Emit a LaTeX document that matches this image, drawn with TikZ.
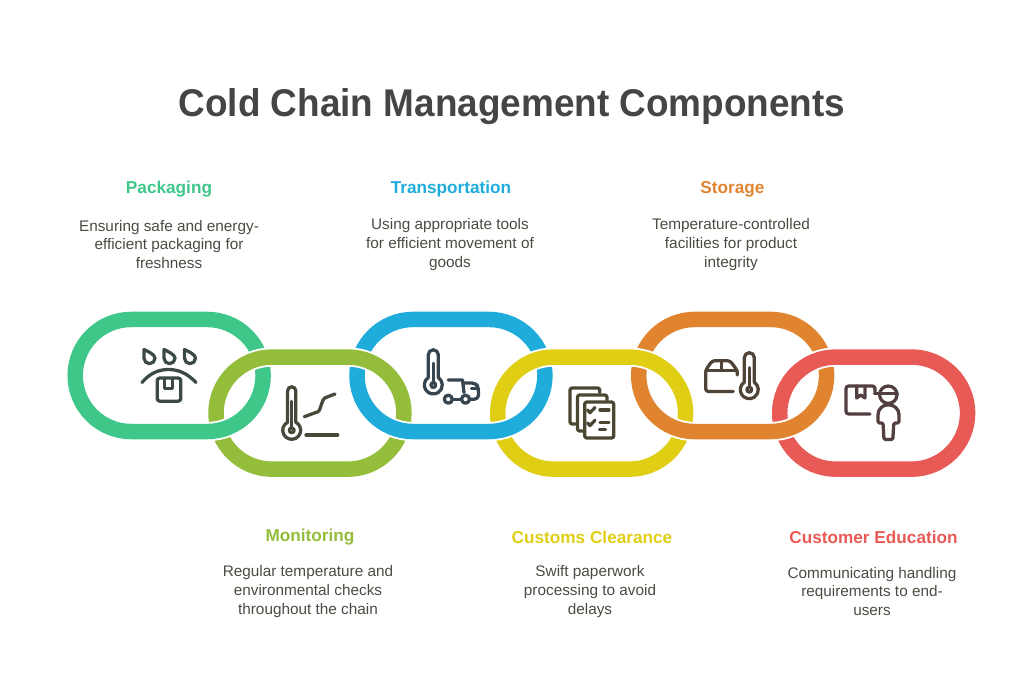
\documentclass[tikz,border=0pt]{standalone}
\usepackage{fontspec}
\setmainfont{Liberation Sans}
\newfontfamily\titlefont[FakeStretch=0.955]{Liberation Sans}
\usepackage{tikz}

\definecolor{pack}{HTML}{3FC78A}
\definecolor{moni}{HTML}{93BD3A}
\definecolor{tran}{HTML}{1FACDB}
\definecolor{cust}{HTML}{E0CE15}
\definecolor{stor}{HTML}{E08430}
\definecolor{educ}{HTML}{E85A55}
\definecolor{ink}{HTML}{4B4B42}
\definecolor{inkpack}{HTML}{3C4A44}
\definecolor{inkmoni}{HTML}{46493A}
\definecolor{inktran}{HTML}{36454F}
\definecolor{inkcust}{HTML}{4A4632}
\definecolor{inkstor}{HTML}{504438}
\definecolor{inkeduc}{HTML}{533F3F}

\tikzset{iconline/.style={line width=2.45pt,line cap=round,line join=round}}

% one link of the chain: left edge, top edge, colour
\newcommand{\chainlink}[3]{
    \draw[white,line width=14.4pt] (#1+63.75,#2+7.75) -- ++(75.8,0) arc[start angle=90,end angle=-90,radius=42.04pt] -- ++(-75.8,0) arc[start angle=270,end angle=90,radius=42.04pt] -- cycle;
    \draw[#3,line width=11.6pt] (#1+63.75,#2+7.75) -- ++(75.8,0) arc[start angle=90,end angle=-90,radius=42.04pt] -- ++(-75.8,0) arc[start angle=270,end angle=90,radius=42.04pt] -- cycle;
}
% thermometer: bulb x, bulb y, tube top, half width of tube, top of stem, colour
\newcommand{\thermo}[6]{
    \pgfmathsetmacro{\tang}{asin(#4/9)}
    \pgfmathsetmacro{\tup}{9*cos(\tang)}
    \begin{scope}[shift={(#1,#2)},draw=#6,iconline]
        \draw (-#4,-\tup) arc[start angle=90+\tang,end angle=450-\tang,radius=6.75pt]
            {[rounded corners=#4*0.74pt] -- (#4,#3) -- (-#4,#3)} -- cycle;
        \draw (0,0) circle[radius=2.4];
        \draw (0,#5) -- (0,-2.4);
    \end{scope}
}
% water drop: x and y of its tip
\newcommand{\waterdrop}[2]{
    \draw[shift={(#1,#2)}] (0,0) .. controls (4,2) and (11,5) .. (11,8.7) .. controls (11,11.7) and (8.5,14.2) .. (5.5,14.2) .. controls (2.5,14.2) and (0,11.7) .. (0,8.7) .. controls (0,5.7) and (0,3) .. cycle;
}

\begin{document}
\begin{tikzpicture}[x=0.75pt,y=-0.75pt]
\tikzstyle{title}=[font=\titlefont\bfseries\fontsize{29}{36}\selectfont,text=black!73]
\tikzstyle{head}=[font=\bfseries\fontsize{12.9}{15}\selectfont]
\tikzstyle{desc}=[font=\fontsize{11.5}{14}\selectfont,text=ink,align=center]
\useasboundingbox (0,0) rectangle (1024,695);
% draw texts
    \node[title] (title) at (512,107) {Cold Chain Management Components};
    \node[head,text=pack] (hpack) at (169,189) {Packaging};
    \node[head,text=tran] (htran) at (451,189) {Transportation};
    \node[head,text=stor] (hstor) at (732.5,189) {Storage};
    \node[head,text=moni] (hmoni) at (310,537) {Monitoring};
    \node[head,text=cust] (hcust) at (592,537) {Customs Clearance};
    \node[head,text=educ] (heduc) at (873.5,537) {Customer Education};
    \node[desc] (dpack) at (169,244.5) {Ensuring safe and energy-\\efficient packaging for\\freshness};
    \node[desc] (dtran) at (450,244.5) {Using appropriate tools\\for efficient movement of\\goods};
    \node[desc] (dstor) at (731,244.5) {Temperature-controlled\\facilities for product\\integrity};
    \node[desc] (dmoni) at (308,591.5) {Regular temperature and\\environmental checks\\throughout the chain};
    \node[desc] (dcust) at (590,591.5) {Swift paperwork\\processing to avoid\\delays};
    \node[desc] (deduc) at (872,591.5) {Communicating handling\\requirements to end-\\users};
% draw chain
%   upper links, then lower links over them
    \chainlink{67.5}{311.7}{pack}
    \chainlink{349.3}{311.7}{tran}
    \chainlink{631}{311.7}{stor}
    \chainlink{208.3}{349.3}{moni}
    \chainlink{490}{349.3}{cust}
    \chainlink{772}{349.3}{educ}
%   lower half of upper links again, so that they interlock
    \begin{scope}
        \clip (0,385) rectangle (1024,450);
        \chainlink{67.5}{311.7}{pack}
        \chainlink{349.3}{311.7}{tran}
        \chainlink{631}{311.7}{stor}
    \end{scope}
% draw packaging icon
    \begin{scope}[iconline,draw=inkpack]
        \waterdrop{144}{349.5}
        \waterdrop{164}{349.5}
        \waterdrop{184.5}{349.5}
        \draw (142,382.5) .. controls (150,373) and (159,369.5) .. (168.5,369.5) .. controls (178,369.5) and (187,373) .. (196,382.5);
        \draw[rounded corners=2pt] (157.2,378) rectangle (180.8,401.2);
        \draw (164.8,378) -- (164.8,388.5) -- (172.8,388.5) -- (172.8,378);
    \end{scope}
% draw monitoring icon
    \thermo{291.7}{430.3}{-43.5}{4.1}{-29}{inkmoni}
    \begin{scope}[iconline,draw=inkmoni]
        \draw (304.3,416.7) -- (318,411.7) -- (319.5,410) -- (323,400) -- (325,397.8) -- (335,394);
        \draw (306,435) -- (337.7,435);
    \end{scope}
% draw transportation icon
    \thermo{433.3}{385}{-35.2}{5}{-21.7}{inktran}
    \begin{scope}[iconline,draw=inktran]
        \draw (448.3,399.2) circle[radius=4];
        \draw (465.5,399.2) circle[radius=4];
        \draw (452.3,399.2) -- (461.5,399.2);
        \draw (448.3,380) -- (462.5,380) -- (464,392.5);
        \draw[rounded corners=3pt] (463,383) -- (476,383) -- (478.5,388) -- (478.5,399.2) -- (469.5,399.2);
        \draw (471.5,388.5) -- (478.5,388.5);
    \end{scope}
% draw customs icon
    \begin{scope}[iconline,draw=inkcust,rounded corners=1.6pt]
        \draw (599.8,392.5) -- (599.8,388) -- (570,388) -- (570,424) -- (575.5,424);
        \draw (607,400) -- (607,395) -- (577.5,395) -- (577.5,431) -- (583,431);
        \draw (584.7,402) rectangle (613.7,438);
    \end{scope}
    \begin{scope}[iconline,draw=inkcust]
        \draw (587.5,410) -- (590,412.7) -- (595,407.5);
        \draw (600,410) -- (609,410);
        \draw (587.5,423) -- (590,425.5) -- (595,420.3);
        \draw (600,422.3) -- (609,422.3);
        \draw (599.5,429.5) -- (605.5,429.5);
    \end{scope}
% draw storage icon
    \begin{scope}[iconline,draw=inkstor]
        \draw[rounded corners=2pt] (733.3,391.5) -- (705.7,391.5) -- (705.7,370) -- (712.3,360.7) -- (730,360.7) -- (737.3,370.5) -- (737.3,375);
        \draw (705.7,370.5) -- (737.3,370.5);
        \draw (721.7,360.7) -- (721.7,370.5);
    \end{scope}
    \thermo{749.3}{389.7}{-37}{5}{-22}{inkstor}
% draw education icon
    \begin{scope}[iconline,draw=inkeduc]
        \draw[rounded corners=2pt] (870,414) -- (846,414) -- (846,386) -- (875,386) -- (875,392);
        \draw (856.7,386) -- (856.7,398) -- (860.8,395) -- (865,398) -- (865,386);
        \draw (888.3,394.7) circle[radius=8.7];
        \draw (874.5,393.3) -- (897.5,393.3);
        \draw[rounded corners=1pt] (883,423) -- (878,423) -- (878,416) .. controls (878,409) and (883,405) .. (888.3,405) .. controls (894,405) and (899,409) .. (899,416) -- (899,423) -- (893.8,423) -- (892.8,439.5) -- (884,439.5) -- cycle;
    \end{scope}
\end{tikzpicture}
\end{document}
